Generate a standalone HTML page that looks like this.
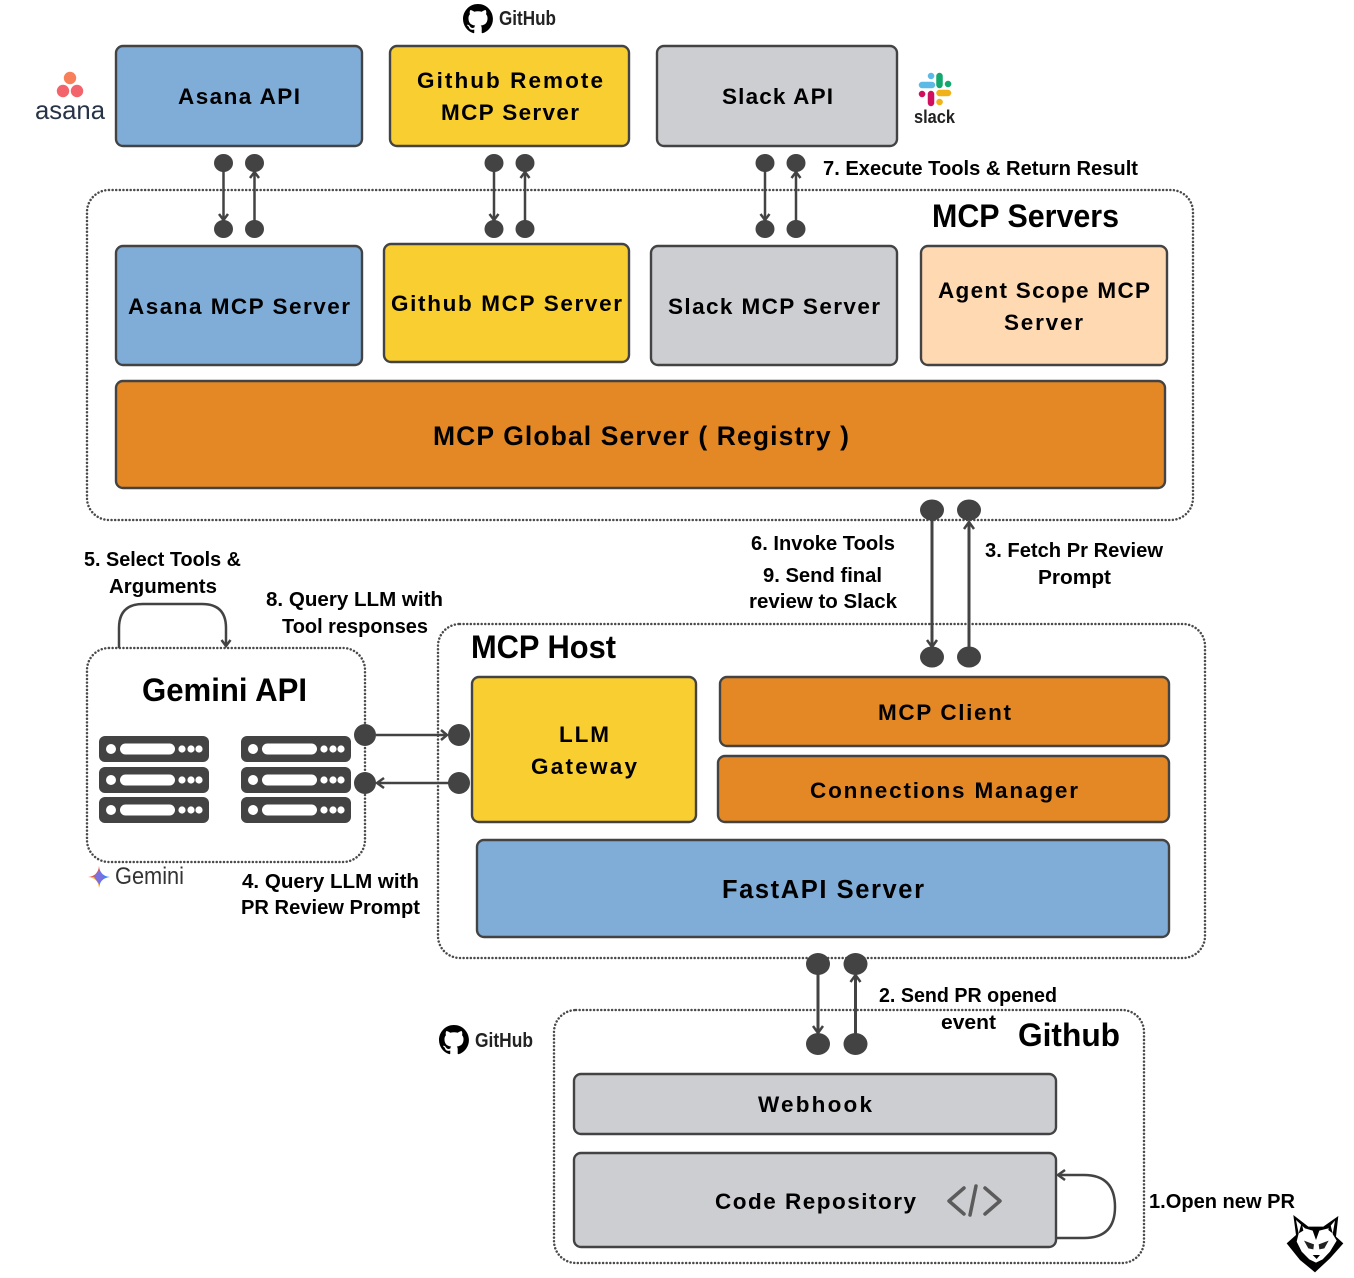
<!DOCTYPE html>
<html><head><meta charset="utf-8"><style>
html,body{margin:0;padding:0;background:#fff}
svg{display:block}
text{font-family:"Liberation Sans",sans-serif;font-weight:bold;fill:#000;text-anchor:start}
.b{stroke:#434343;stroke-width:2.4}
.d{fill:none;stroke:#4a4a4a;stroke-width:2.5;stroke-dasharray:.01 3.6;stroke-linecap:round}
.l{fill:none;stroke:#434343;stroke-width:2.5}
.a{fill:none;stroke:#434343;stroke-width:2.5}
.n{fill:#434343}
.w{fill:#fff}
</style></head><body>
<svg width="1354" height="1278" viewBox="0 0 1354 1278" xmlns="http://www.w3.org/2000/svg">
<rect width="1354" height="1278" fill="#fff"/>
<defs>
<path id="gh" d="M8 0C3.58 0 0 3.58 0 8c0 3.54 2.29 6.53 5.47 7.59.4.07.55-.17.55-.38 0-.19-.01-.82-.01-1.49-2.01.37-2.53-.49-2.69-.94-.09-.23-.48-.94-.82-1.13-.28-.15-.68-.52-.01-.53.63-.01 1.08.58 1.23.82.72 1.21 1.87.87 2.33.66.07-.52.28-.87.51-1.07-1.78-.2-3.64-.89-3.64-3.95 0-.87.31-1.59.82-2.15-.08-.2-.36-1.02.08-2.12 0 0 .67-.21 2.2.82.64-.18 1.32-.27 2-.27.68 0 1.36.09 2 .27 1.53-1.04 2.2-.82 2.2-.82.44 1.1.16 1.92.08 2.12.51.56.82 1.27.82 2.15 0 3.07-1.87 3.75-3.65 3.95.29.25.54.73.54 1.48 0 1.07-.01 1.93-.01 2.2 0 .21.15.46.55.38A8.013 8.013 0 0016 8c0-4.42-3.58-8-8-8z"/>
<g id="srv">
<rect x="0" y="0" width="110" height="26" rx="6" class="n"/>
<circle cx="12" cy="13" r="5" class="w"/>
<rect x="21" y="7.5" width="55" height="11" rx="5.5" class="w"/>
<circle cx="83" cy="13" r="3.6" class="w"/><circle cx="92" cy="13" r="3.6" class="w"/><circle cx="100" cy="13" r="3.6" class="w"/>
</g>
</defs>

<!-- Containers -->
<rect class="d" x="87" y="190" width="1106" height="330" rx="22"/>
<rect class="d" x="438" y="624" width="767" height="334" rx="22"/>
<rect class="d" x="87" y="648" width="278" height="214" rx="22"/>
<rect class="d" x="554" y="1010" width="590" height="253" rx="22"/>

<!-- Boxes -->
<rect class="b" x="116" y="46" width="246" height="100" rx="7" fill="#80ADD8"/>
<rect class="b" x="390" y="46" width="239" height="100" rx="7" fill="#F9CE30"/>
<rect class="b" x="657" y="46" width="240" height="100" rx="7" fill="#CDCED2"/>
<rect class="b" x="116" y="246" width="246" height="119" rx="7" fill="#80ADD8"/>
<rect class="b" x="384" y="244" width="245" height="118" rx="7" fill="#F9CE30"/>
<rect class="b" x="651" y="246" width="246" height="119" rx="7" fill="#CDCED2"/>
<rect class="b" x="921" y="246" width="246" height="119" rx="7" fill="#FFD9B2"/>
<rect class="b" x="116" y="381" width="1049" height="107" rx="7" fill="#E48825"/>
<rect class="b" x="472" y="677" width="224" height="145" rx="7" fill="#F9CE30"/>
<rect class="b" x="720" y="677" width="449" height="69" rx="7" fill="#E48825"/>
<rect class="b" x="718" y="756" width="451" height="66" rx="7" fill="#E48825"/>
<rect class="b" x="477" y="840" width="692" height="97" rx="7" fill="#80ADD8"/>
<rect class="b" x="574" y="1074" width="482" height="60" rx="7" fill="#CDCED2"/>
<rect class="b" x="574" y="1153" width="482" height="94" rx="7" fill="#CDCED2"/>

<!-- Box text -->
<g font-size="22.5">
<text x="178" y="104" textLength="122">Asana API</text>
<text x="417" y="88" textLength="186">Github Remote</text>
<text x="441" y="120" textLength="138">MCP Server</text>
<text x="722" y="104" textLength="111">Slack API</text>
<text x="128" y="314" textLength="222">Asana MCP Server</text>
<text x="391" y="311" textLength="231">Github MCP Server</text>
<text x="668" y="314" textLength="212">Slack MCP Server</text>
<text x="938" y="298" textLength="212">Agent Scope MCP</text>
<text x="1004" y="330" textLength="79">Server</text>
<text x="559" y="742" textLength="50">LLM</text>
<text x="531" y="774" textLength="106">Gateway</text>
<text x="878" y="720" textLength="133">MCP Client</text>
<text x="810" y="798" textLength="268">Connections Manager</text>
<text x="758" y="1112" textLength="114">Webhook</text>
<text x="715" y="1209" textLength="201">Code Repository</text>
</g>
<text x="433" y="445" font-size="26.5" textLength="416">MCP Global Server ( Registry )</text>
<text x="722" y="898" font-size="25.5" textLength="202">FastAPI Server</text>

<!-- Titles -->
<g font-size="32">
<text x="932" y="227" textLength="187" lengthAdjust="spacingAndGlyphs">MCP Servers</text>
<text x="471" y="658" textLength="145" lengthAdjust="spacingAndGlyphs">MCP Host</text>
<text x="142" y="701" textLength="165" lengthAdjust="spacingAndGlyphs">Gemini API</text>
<text x="1018" y="1046" textLength="102" lengthAdjust="spacingAndGlyphs">Github</text>
</g>

<!-- Labels -->
<g font-size="20">
<text x="823" y="175" textLength="315" lengthAdjust="spacingAndGlyphs">7. Execute Tools &amp; Return Result</text>
<text x="84" y="566" textLength="157" lengthAdjust="spacingAndGlyphs">5. Select Tools &amp;</text>
<text x="109" y="593" textLength="108" lengthAdjust="spacingAndGlyphs">Arguments</text>
<text x="266" y="606" textLength="177" lengthAdjust="spacingAndGlyphs">8. Query LLM with</text>
<text x="282" y="633" textLength="146" lengthAdjust="spacingAndGlyphs">Tool responses</text>
<text x="751" y="550" textLength="144" lengthAdjust="spacingAndGlyphs">6. Invoke Tools</text>
<text x="763" y="582" textLength="119" lengthAdjust="spacingAndGlyphs">9. Send final</text>
<text x="749" y="608" textLength="148" lengthAdjust="spacingAndGlyphs">review to Slack</text>
<text x="985" y="557" textLength="178" lengthAdjust="spacingAndGlyphs">3. Fetch Pr Review</text>
<text x="1038" y="584" textLength="73" lengthAdjust="spacingAndGlyphs">Prompt</text>
<text x="242" y="888" textLength="177" lengthAdjust="spacingAndGlyphs">4. Query LLM with</text>
<text x="241" y="914" textLength="179" lengthAdjust="spacingAndGlyphs">PR Review Prompt</text>
<text x="879" y="1002" textLength="178" lengthAdjust="spacingAndGlyphs">2. Send PR opened</text>
<text x="941" y="1029" textLength="55" lengthAdjust="spacingAndGlyphs">event</text>
<text x="1149" y="1208" textLength="146" lengthAdjust="spacingAndGlyphs">1.Open new PR</text>
</g>

<!-- Top connectors -->
<g class="l">
<path d="M223.5 170V221M254.5 222V172"/>
<path d="M494 170V221M525 222V172"/>
<path d="M765 170V221M796 222V172"/>
</g>
<g class="a">
<path d="M219 214l4.5 6 4.5-6M250 178l4.5-6 4.5 6"/>
<path d="M489.5 214l4.5 6 4.5-6M520.5 178l4.5-6 4.5 6"/>
<path d="M760.5 214l4.5 6 4.5-6M791.5 178l4.5-6 4.5 6"/>
</g>
<g class="n">
<ellipse cx="223.5" cy="163" rx="9.5" ry="9"/><ellipse cx="254.5" cy="163" rx="9.5" ry="9"/>
<ellipse cx="223.5" cy="229" rx="9.5" ry="9"/><ellipse cx="254.5" cy="229" rx="9.5" ry="9"/>
<ellipse cx="494" cy="163" rx="9.5" ry="9"/><ellipse cx="525" cy="163" rx="9.5" ry="9"/>
<ellipse cx="494" cy="229" rx="9.5" ry="9"/><ellipse cx="525" cy="229" rx="9.5" ry="9"/>
<ellipse cx="765" cy="163" rx="9.5" ry="9"/><ellipse cx="796" cy="163" rx="9.5" ry="9"/>
<ellipse cx="765" cy="229" rx="9.5" ry="9"/><ellipse cx="796" cy="229" rx="9.5" ry="9"/>
</g>

<!-- Host to Servers -->
<path d="M932 515V648M969 650V522" fill="none" stroke="#434343" stroke-width="3"/>
<path d="M927 640l5 7 5-7M964 529l5-7 5 7" fill="none" stroke="#434343" stroke-width="2.5"/>
<g class="n">
<ellipse cx="932" cy="510" rx="12" ry="10.5"/><ellipse cx="969" cy="510" rx="12" ry="10.5"/>
<ellipse cx="932" cy="657" rx="12" ry="10.5"/><ellipse cx="969" cy="657" rx="12" ry="10.5"/>
</g>

<!-- Gemini connectors -->
<path d="M376 735H447M450 783H377" class="l"/>
<path d="M441 730l6 5-6 5M384 778l-7 5 7 5" class="a"/>
<g class="n">
<circle cx="365" cy="735" r="11"/><circle cx="459" cy="735" r="11"/>
<circle cx="365" cy="783" r="11"/><circle cx="459" cy="783" r="11"/>
</g>

<!-- Gemini self loop -->
<path d="M119 648V628Q119 604 143 604H202Q226 604 226 628V646" class="l"/>
<path d="M221.500 640l4.500 6 4.500-6" class="a"/>

<!-- Servers icons -->
<use href="#srv" x="99" y="736"/><use href="#srv" x="99" y="767"/><use href="#srv" x="99" y="797"/>
<use href="#srv" x="241" y="736"/><use href="#srv" x="241" y="767"/><use href="#srv" x="241" y="797"/>

<!-- Github connectors -->
<path d="M818 970V1033M855.5 1036V975" fill="none" stroke="#434343" stroke-width="3"/>
<path d="M813 1026l5 7 5-7M850.5 982l5-7 5 7" fill="none" stroke="#434343" stroke-width="2.5"/>
<g class="n">
<ellipse cx="818" cy="964" rx="12" ry="11"/><ellipse cx="855.5" cy="964" rx="12" ry="11"/>
<ellipse cx="818" cy="1044" rx="12" ry="11"/><ellipse cx="855.5" cy="1044" rx="12" ry="11"/>
</g>

<!-- Code repo self loop -->
<path d="M1058 1175H1084Q1115 1175 1115 1207Q1115 1238 1084 1238H1057" class="l"/>
<path d="M1065 1170l-7 5 7 5" class="a"/>

<!-- Code icon -->
<path d="M964 1188L949 1201L964 1214M985 1188L1000 1201L985 1214M976 1186L970 1215" fill="none" stroke="#5b5b5b" stroke-width="3.500" stroke-linecap="round" stroke-linejoin="round"/>

<!-- GitHub logos -->
<use href="#gh" transform="translate(463 4) scale(1.87)"/>
<text x="499" y="25" font-size="20" textLength="57" lengthAdjust="spacingAndGlyphs" style="fill:#222">GitHub</text>
<use href="#gh" transform="translate(439 1025) scale(1.87)"/>
<text x="475" y="1047" font-size="20" textLength="58" lengthAdjust="spacingAndGlyphs" style="fill:#222">GitHub</text>

<!-- Asana logo -->
<circle cx="70" cy="78" r="6.2" fill="#F7805A"/>
<circle cx="63" cy="91" r="6.2" fill="#F2636B"/>
<circle cx="77" cy="91" r="6.2" fill="#F2636B"/>
<text x="35" y="119" font-size="26" textLength="70" lengthAdjust="spacingAndGlyphs" style="font-weight:normal;fill:#273347">asana</text>

<!-- Slack logo -->
<g stroke-linecap="round" fill="none" stroke-width="6.500">
<path d="M922 85H932M931 76H931.100" stroke="#5DB9E6"/>
<path d="M939.500 76V85M948 84H948.100" stroke="#13A86E"/>
<path d="M922 94H922.100M931 94V103" stroke="#D0105F"/>
<path d="M939.500 93H948M939.500 102H939.600" stroke="#F0B216"/>
</g>
<text x="914" y="123" font-size="18" textLength="41" lengthAdjust="spacingAndGlyphs" style="fill:#222">slack</text>

<!-- Gemini logo -->
<path d="M99 866Q100 876 110 877Q100 878 99 888Z" fill="#4285F4"/>
<path d="M99 866Q98 876 88 877H99Z" fill="#E8574A"/>
<path d="M99 877H88Q98 878 99 888Z" fill="#F6B73C"/>
<path d="M99 870L104 877L99 884L94 877Z" fill="#7C6FE0"/>
<text x="115" y="884" font-size="24" textLength="69" lengthAdjust="spacingAndGlyphs" style="font-weight:normal;fill:#333">Gemini</text>

<!-- Fox logo -->
<g transform="translate(1280 1210) scale(.3333)">
<path d="M40,15 L85,50 H130 L175,18 L168,80 L190,100 L150,145 L105,187 L60,150 L20,100 L48,75 Z" fill="#000"/>
<path d="M48,30 L75,55 L98,62 L108,90 L118,62 L145,55 L165,32 L158,72 L170,92 L150,125 L128,148 L108,158 L88,148 L65,125 L50,95 L56,70 Z" fill="#fff"/>
<path d="M65,38 L70,62 L56,70Z M150,38 L145,60 L158,70Z" fill="#000"/>
<path d="M72,92 L102,103 L100,118 L85,115 Z M146,92 L116,103 L118,118 L133,115 Z" fill="#222"/>
<path d="M98,135 H120 L110,147 Z M75,140 L108,172 L142,140 L125,165 L108,180 L90,165 Z" fill="#000"/>
</g>
</svg>
</body></html>
